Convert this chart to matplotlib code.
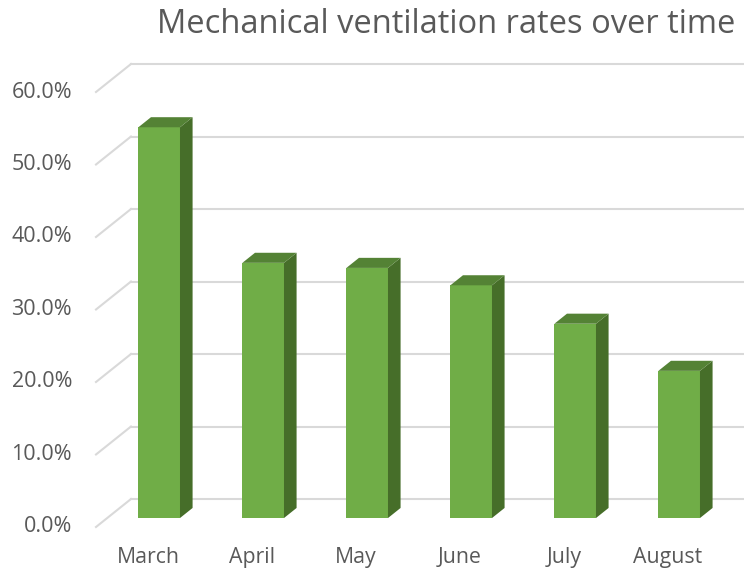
import matplotlib.pyplot as plt
from matplotlib.patches import Polygon
import numpy as np

# data
months = ['March', 'April', 'May', 'June', 'July', 'August']
rates = [53.9, 35.2, 34.5, 32.1, 26.8, 20.3]
yticks = [0, 10, 20, 30, 40, 50, 60]
title = 'Mechanical ventilation rates over time'

# colours
c_front = '#70AD47'
c_side = '#466E29'
c_top = '#548235'
c_grid = '#D9D9D9'
c_text = '#595959'

# oblique "3d" offset for the full floor depth (data units)
DX, DY = 0.3365, 3.86
t0, t1 = 0.32, 0.68      # depth range occupied by the bars
bw = 0.40                # bar width

fig = plt.figure(figsize=(7.44, 5.71), dpi=100)
ax = fig.add_axes([0, 0, 1, 1])
ax.set_xlim(-1.423, 5.731)
ax.set_ylim(-6.07, 72.69)
ax.axis('off')

plt.rcParams['font.family'] = ['Open Sans', 'DejaVu Sans']

x = np.arange(len(months))
x_left = -0.5
x_right = len(months) - 0.5

# gridlines: diagonal on the left floor edge + line across the back wall
for v in yticks:
    ax.plot([x_left, x_left + DX], [v, v + DY], color=c_grid, lw=1.5, zorder=1)
    ax.plot([x_left + DX, x_right + DX + 1], [v + DY, v + DY], color=c_grid, lw=1.5, zorder=1)
    ax.text(x_left - 0.23, v, f'{v:.1f}%', ha='right', va='center',
            fontsize=15.5, color=c_text, family=['Open Sans', 'DejaVu Sans'])

# bars
for xi, val in zip(x, rates):
    l = xi - bw / 2 + t0 * DX
    r = xi + bw / 2 + t0 * DX
    b = t0 * DY
    ddx = (t1 - t0) * DX
    ddy = (t1 - t0) * DY
    ax.bar(l, val, width=bw, bottom=b, align='edge', color=c_front, zorder=3)
    side = Polygon([(r, b), (r + ddx, b + ddy), (r + ddx, b + val + ddy), (r, b + val)],
                   closed=True, facecolor=c_side, edgecolor='none', zorder=3)
    top = Polygon([(l, b + val), (r, b + val), (r + ddx, b + val + ddy), (l + ddx, b + val + ddy)],
                  closed=True, facecolor=c_top, edgecolor='none', zorder=3)
    ax.add_patch(side)
    ax.add_patch(top)

# category labels
for xi, m in zip(x, months):
    ax.text(xi, -4.2, m, ha='center', va='center', fontsize=15.3, color=c_text,
            family=['Open Sans', 'DejaVu Sans'])

fig.text(0.600, 0.957, title, ha='center', va='center', fontsize=23.5, color=c_text,
         family=['Open Sans', 'DejaVu Sans'])

fig.savefig('out.png', dpi=100, facecolor='white')
